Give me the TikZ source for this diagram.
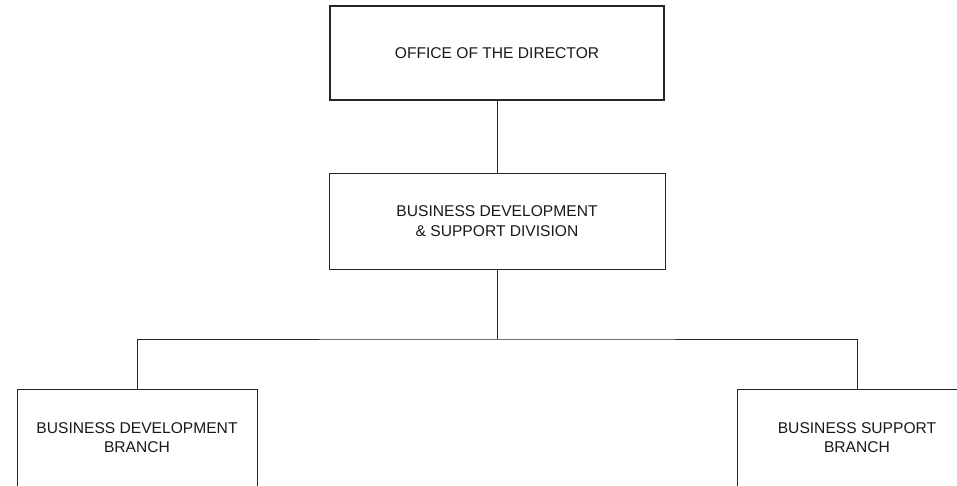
\documentclass[tikz,border=0pt]{standalone}
\usepackage{fontspec}
\setmainfont{Liberation Sans}
\begin{document}
\begin{tikzpicture}[x=1pt,y=-1pt,
  box/.style={draw=black!85, line width=0.9pt, inner sep=0pt, align=center,
    font=\fontsize{15.6}{19.5}\selectfont, text=black!90},
  bigbox/.style={box, minimum width=336pt, minimum height=96pt},
  smallbox/.style={box, minimum width=240pt, minimum height=97.5pt},
  conn/.style={draw=black!85, line width=0.9pt}]
\useasboundingbox (0,0) rectangle (957,485);
\clip (0,0) rectangle (957,485);
\fill[white] (0,0) rectangle (957,485);
\node[bigbox, line width=2pt, minimum width=334pt, minimum height=94pt] (dir) at (497,53) {OFFICE OF THE DIRECTOR};
\node[bigbox] (div) at (497,221) {BUSINESS DEVELOPMENT\\\& SUPPORT DIVISION};
\node[smallbox] (bdb) at (137,437.75) {BUSINESS DEVELOPMENT\\BRANCH};
\node[smallbox] (bsb) at (857,437.75) {BUSINESS SUPPORT\\BRANCH};
\coordinate (bus) at (497,339);
\draw[conn] (dir) -- (div);
\draw[conn] (div) -- (bus);
\draw[conn] (bdb.north) |- (bus) -| (bsb.north);
\end{tikzpicture}
\end{document}
